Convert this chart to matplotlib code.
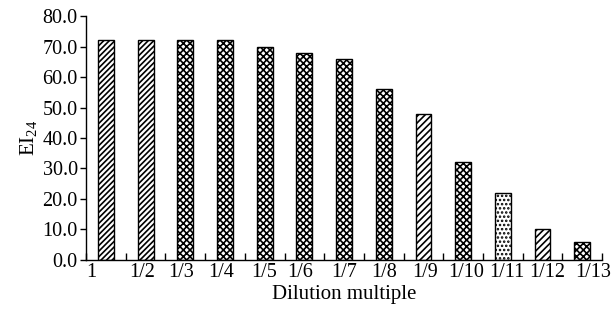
import matplotlib
matplotlib.use("Agg")
import matplotlib.pyplot as plt
import numpy as np

plt.rcParams['font.family'] = ['Liberation Serif', 'DejaVu Serif']
plt.rcParams['hatch.linewidth'] = 1.2
plt.rcParams['mathtext.fontset'] = 'custom'
plt.rcParams['mathtext.rm'] = 'Liberation Serif'

categories = ["1", "1/2", "1/3", "1/4", "1/5", "1/6", "1/7", "1/8", "1/9", "1/10", "1/11", "1/12", "1/13"]
ei24 = [72, 72, 72, 72, 70, 68, 66, 56, 48, 32, 22, 10, 6]
hatches = ["//////", "//////", "xxxxx", "xxxxx", "xxxxx", "xxxxx", "xxxxx", "xxxxx",
           "/////", "xxxxx", "....", "/////", "xxxxx"]
yticks = [0, 10, 20, 30, 40, 50, 60, 70, 80]

# category labels are typeset as a spaced row, slightly off the bar centres
label_shift = [-0.37, -0.1, -0.1, -0.1, -0.02, -0.1, 0.0, 0.0, 0.05, 0.07, 0.1, 0.12, 0.27]

fig = plt.figure(figsize=(6.15, 3.27), dpi=100)
ax = fig.add_axes([0.14, 0.205, 0.839, 0.746])

x = np.arange(len(categories))
for xi, v, h in zip(x, ei24, hatches):
    ax.bar(xi, v, width=0.4, color="white", edgecolor="black", linewidth=1.0, hatch=h)

ax.set_xlim(-0.5, len(categories) - 0.5)
ax.set_ylim(0, 80)
ax.set_yticks(yticks)
ax.set_yticklabels([f"{t:.1f}" for t in yticks], fontsize=14.5)
ax.set_xticks(x + np.array(label_shift))
ax.set_xticklabels(categories, fontsize=14.5)
ax.tick_params(axis="x", which="major", length=0, pad=2)
ax.set_xticks(np.arange(-0.5, len(categories)), minor=True)
ax.tick_params(axis="x", which="minor", direction="in", length=5, width=1)
ax.tick_params(axis="y", direction="out", length=4, width=1, pad=2)

for side in ("top", "right"):
    ax.spines[side].set_visible(False)
for side in ("left", "bottom"):
    ax.spines[side].set_linewidth(1.0)

ax.set_xlabel("Dilution multiple", fontsize=15, labelpad=2)
ax.set_ylabel(r"EI$_{24}$", fontsize=15, labelpad=2)

fig.savefig("out.png", dpi=100)
